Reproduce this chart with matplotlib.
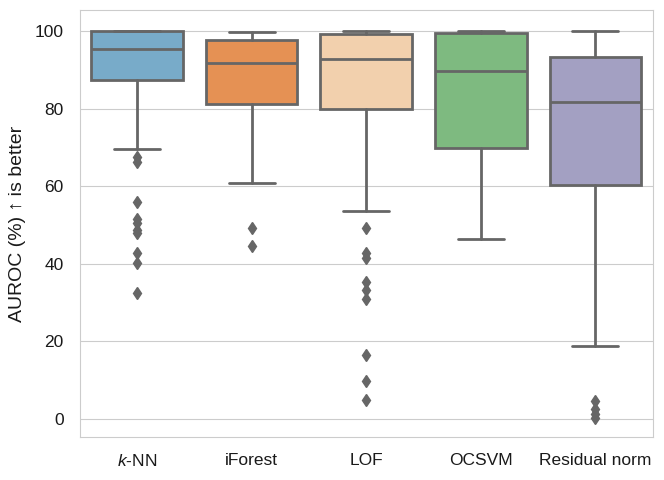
import matplotlib
matplotlib.use("Agg")
import matplotlib.pyplot as plt
import seaborn as sns

# box statistics (AUROC %)
methods = ["$k$-NN", "iForest", "LOF", "OCSVM", "Residual norm"]
q1 = [87.4, 81.2, 79.8, 69.9, 60.4]
median = [95.3, 91.8, 92.9, 89.7, 81.8]
q3 = [99.9, 97.8, 99.2, 99.4, 93.2]
whislo = [69.6, 60.9, 53.7, 46.3, 18.9]
whishi = [100.0, 99.7, 100.0, 100.0, 100.0]
fliers = [
    [67.5, 66.2, 56.0, 51.5, 50.6, 48.7, 48.0, 42.9, 40.3, 32.4],
    [49.3, 44.7],
    [49.1, 42.9, 41.4, 35.4, 33.2, 30.8, 16.5, 9.9, 4.9],
    [],
    [4.5, 2.5, 1.2, 0.2],
]
base_colors = ["#6baed6", "#fd8d3c", "#fdd0a2", "#74c476", "#9e9ac8"]

sns.set_style("whitegrid")
plt.rcParams["font.family"] = ["Liberation Sans", "DejaVu Sans"]
plt.rcParams["mathtext.fontset"] = "custom"
plt.rcParams["mathtext.it"] = "Liberation Sans:italic"
plt.rcParams["mathtext.rm"] = "Liberation Sans"

fig, ax = plt.subplots(figsize=(6.64, 4.8), dpi=100)
fig.subplots_adjust(left=0.12, right=0.983, top=0.979, bottom=0.09)

stats = []
for i in range(len(methods)):
    stats.append({"label": methods[i], "q1": q1[i], "med": median[i], "q3": q3[i],
                  "whislo": whislo[i], "whishi": whishi[i], "fliers": fliers[i]})

line_col = "#666666"
lw = 2.0
bp = ax.bxp(stats, positions=range(len(methods)), widths=0.8, patch_artist=True,
            boxprops=dict(edgecolor=line_col, linewidth=lw),
            medianprops=dict(color=line_col, linewidth=lw),
            whiskerprops=dict(color=line_col, linewidth=lw),
            capprops=dict(color=line_col, linewidth=lw),
            flierprops=dict(marker="d", markerfacecolor=line_col, markeredgecolor=line_col,
                            markersize=6, linestyle="none"))
for patch, c in zip(bp["boxes"], base_colors):
    patch.set_facecolor(sns.desaturate(c, 0.75))

ax.set_xlim(-0.5, len(methods) - 0.5)
ax.set_ylim(-4.6, 105.4)
ax.set_yticks([0, 20, 40, 60, 80, 100])
ax.set_ylabel("AUROC (%) \u2191 is better", fontsize=14, color="#1a1a1a", labelpad=6)
ax.tick_params(axis="both", labelsize=12.5, labelcolor="#1a1a1a")
ax.tick_params(axis="y", pad=8)
ax.tick_params(axis="x", pad=8)
ax.grid(axis="x", visible=False)
for s in ax.spines.values():
    s.set_color("#cccccc")

fig.savefig("out.png", dpi=100)
